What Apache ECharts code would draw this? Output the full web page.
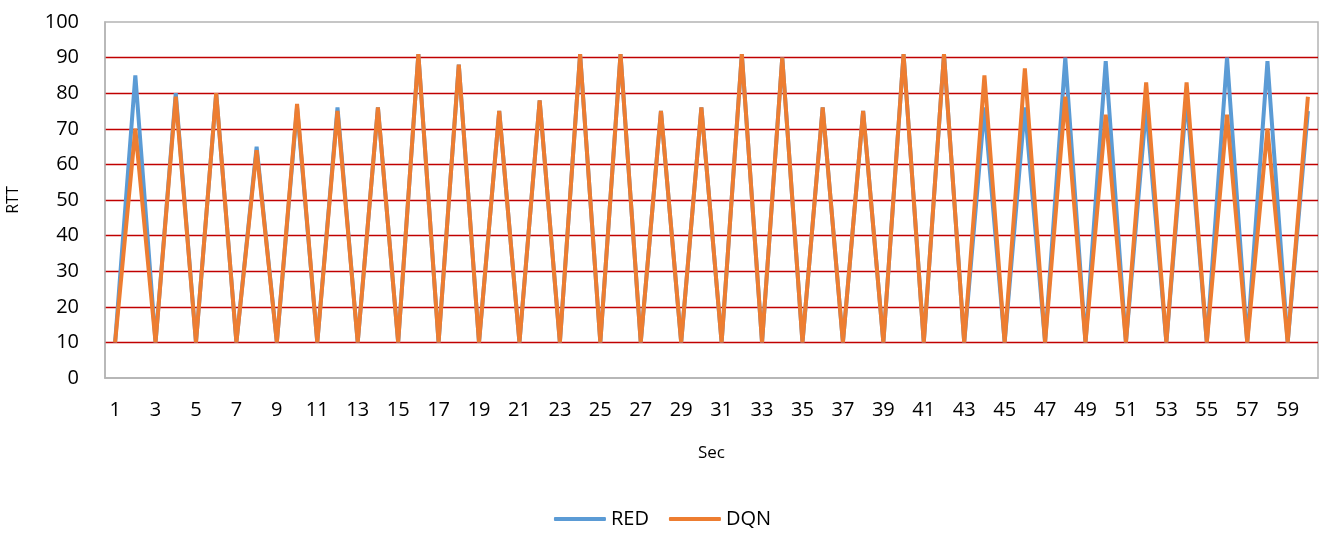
<!DOCTYPE html>
<html>
<head>
<meta charset="utf-8">
<script src="https://cdn.jsdelivr.net/npm/echarts@6/dist/echarts.min.js"></script>
<style>
  html, body { margin: 0; padding: 0; background: #fff; }
  #chart { width: 1325px; height: 536px; }
</style>
</head>
<body>
<div id="chart"></div>
<script>
// Seconds 1..60
const seconds = [];
for (let s = 1; s <= 60; s++) seconds.push(String(s));

// RTT per second for the RED queue
const redRtt = [
  10, 85, 10, 80, 10, 80, 10, 65, 10, 76,
  10, 76, 10, 76, 10, 91, 10, 88, 10, 75,
  10, 78, 10, 91, 10, 91, 10, 75, 10, 76,
  10, 91, 10, 90, 10, 76, 10, 75, 10, 91,
  10, 91, 10, 76, 10, 76, 10, 90, 10, 89,
  10, 76, 10, 79, 10, 90, 10, 89, 10, 75
];

// RTT per second for the DQN queue
const dqnRtt = [
  10, 70, 10, 79, 10, 80, 10, 64, 10, 77,
  10, 75, 10, 76, 10, 91, 10, 88, 10, 75,
  10, 78, 10, 91, 10, 91, 10, 75, 10, 76,
  10, 91, 10, 90, 10, 76, 10, 75, 10, 91,
  10, 91, 10, 85, 10, 87, 10, 79, 10, 74,
  10, 83, 10, 83, 10, 74, 10, 70, 10, 79
];

const yTicks = { min: 0, max: 100, interval: 10 };

const font = 'Open Sans, Liberation Sans, sans-serif';
const chart = echarts.init(document.getElementById('chart'));
chart.setOption({
  animation: false,
  grid: {
    left: 105, right: 7, top: 22, bottom: 158,
    outerBoundsMode: 'none',
    show: true, borderColor: '#B4B4B4', borderWidth: 1.5
  },
  legend: {
    bottom: 2,
    left: 'center',
    icon: 'roundRect',
    itemWidth: 52,
    itemHeight: 4,
    itemGap: 20,
    textStyle: { fontFamily: font, fontSize: 20, color: '#000' },
    data: ['RED', 'DQN']
  },
  xAxis: {
    type: 'category',
    data: seconds,
    boundaryGap: true,
    name: 'Sec',
    nameLocation: 'middle',
    nameGap: 67,
    nameTextStyle: { fontFamily: font, fontSize: 17, color: '#000' },
    axisLine: { lineStyle: { color: '#B4B4B4', width: 1.5 } },
    axisTick: { show: false },
    axisLabel: { interval: 1, margin: 22, fontFamily: font, fontSize: 20, color: '#000' }
  },
  yAxis: {
    type: 'value',
    min: yTicks.min,
    max: yTicks.max,
    interval: yTicks.interval,
    name: 'RTT',
    nameLocation: 'middle',
    nameRotate: 90,
    nameGap: 84,
    nameTextStyle: { fontFamily: font, fontSize: 16, color: '#000' },
    axisLine: { show: true, lineStyle: { color: '#B4B4B4', width: 1.5 } },
    axisTick: { show: false },
    axisLabel: { margin: 26, fontFamily: font, fontSize: 20, color: '#000' },
    splitLine: {
      show: true,
      showMinLine: false,
      showMaxLine: false,
      lineStyle: { color: '#C00000', width: 1.3 }
    }
  },
  series: [
    {
      name: 'RED',
      type: 'line',
      data: redRtt,
      symbol: 'none',
      color: '#5B9BD5',
      lineStyle: { width: 4, color: '#5B9BD5' },
      z: 2
    },
    {
      name: 'DQN',
      type: 'line',
      data: dqnRtt,
      symbol: 'none',
      color: '#ED7D31',
      lineStyle: { width: 4, color: '#ED7D31' },
      z: 3
    }
  ]
});
</script>
</body>
</html>
